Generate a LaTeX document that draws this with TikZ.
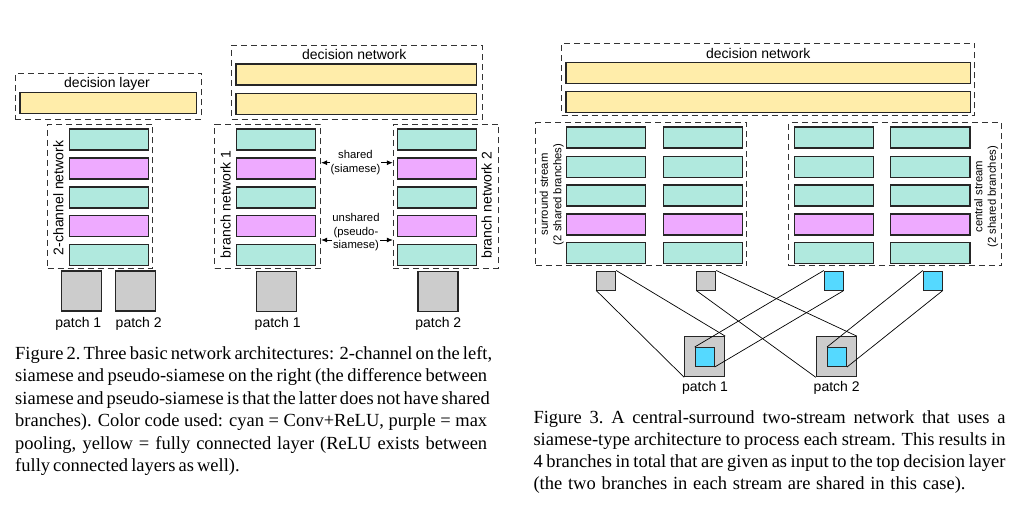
\documentclass[tikz,border=0pt]{standalone}
\usepackage{fontspec}
\setmainfont{Liberation Serif}
\newfontfamily\diagfont{Liberation Sans}
\usetikzlibrary{arrows.meta}
\definecolor{cyb}{HTML}{B0E9DE}
\definecolor{pub}{HTML}{EEAAFF}
\definecolor{yeb}{HTML}{FFEDAA}
\definecolor{grb}{HTML}{CCCCCC}
\definecolor{brc}{HTML}{55D9FF}
\begin{document}
\begin{tikzpicture}[x=1pt,y=-1pt,
  bar/.style={draw=black!85, line width=1.1pt, inner sep=0pt, minimum height=21pt, minimum width=79.3pt},
  fcbar/.style={bar, fill=yeb},
  dbox/.style={draw=black!80, dash pattern=on 6pt off 4pt, line width=1pt, inner sep=0pt},
  patchbox/.style={draw=black!85, line width=1.1pt, fill=grb, inner sep=0pt, minimum size=40pt},
  smallpatch/.style={draw=black!85, line width=1pt, inner sep=0pt, minimum size=19pt},
  lbl/.style={font=\diagfont\fontsize{14}{16}\selectfont, inner sep=0pt},
  slbl/.style={font=\diagfont\fontsize{11.3}{13.5}\selectfont, inner sep=0.5pt, align=center},
  arr/.style={{Latex[length=6pt,width=5pt]}-{Latex[length=6pt,width=5pt]}, line width=0.8pt},
  wire/.style={line width=0.7pt, black},
  captext/.style={anchor=base west, inner sep=0pt, font=\fontsize{18.5}{22.5}\selectfont}
]
\fill[white] (0,0) rectangle (1034,507);
\useasboundingbox (0,0) rectangle (1034,507);

% ---------------- Left: 2-channel ----------------
\node[dbox, minimum width=186.4pt, minimum height=45.7pt] (declay) at (108.5,96.2) {};
\node[lbl] (declaytxt) at (107,83.5) {decision layer};
\node[fcbar, minimum width=176.7pt] (decbar) at (108.3,102.8) {};
\node[dbox, minimum width=105pt, minimum height=144.3pt] (twoch) at (100.2,196.2) {};
\node[lbl, rotate=90] (twochtxt) at (58.3,198) {2-channel network};
\foreach \yy/\cc [count=\i] in {139.5/cyb,168.5/pub,197.5/cyb,226.3/pub,255/cyb}
  {\node[bar, fill=\cc] (L\i) at (108.7,\yy) {};}
\node[patchbox] (lp1) at (81.3,291) {};
\node[patchbox] (lp2) at (135.3,291) {};
\node[lbl] (lp1t) at (78.3,324) {patch 1};
\node[lbl] (lp2t) at (138.7,324) {patch 2};

% ---------------- Middle: siamese ----------------
\node[dbox, minimum width=250.6pt, minimum height=74pt] (decnet) at (357,82) {};
\node[lbl] (decnettxt) at (354.3,54) {decision network};
\node[fcbar, minimum width=240.7pt] (mfc1) at (356.3,74.5) {};
\node[fcbar, minimum width=240.7pt] (mfc2) at (356.3,103.7) {};
\node[dbox, minimum width=105.7pt, minimum height=144.3pt] (br1) at (267.8,196.2) {};
\node[dbox, minimum width=105pt, minimum height=144.3pt] (br2) at (445.8,196.2) {};
\foreach \yy/\cc [count=\i] in {139.5/cyb,168.5/pub,197.5/cyb,226.3/pub,255/cyb}
  {\node[bar, fill=\cc] (A\i) at (276.2,\yy) {};
   \node[bar, fill=\cc] (B\i) at (437,\yy) {};}
\node[lbl, rotate=90] (br1txt) at (225.7,204.3) {branch network 1};
\node[lbl, rotate=90] (br2txt) at (486.7,205) {branch network 2};
\coordinate (sharedy) at (0,162.7);
\coordinate (unsharedy) at (0,240);
\draw[arr] (br1.east |- sharedy) -- (br2.west |- sharedy);
\draw[arr] (br1.east |- unsharedy) -- (br2.west |- unsharedy);
\node[slbl, fill=white] (sharedtxt) at (355.5,162.5) {shared\\(siamese)};
\node[slbl, fill=white] (unsharedtxt) at (356,232.3) {unshared\\(pseudo-\\siamese)};
\node[patchbox] (mp1) at (276.7,291.7) {};
\node[patchbox] (mp2) at (438,291.7) {};
\node[lbl] (mp1t) at (277.7,324) {patch 1};
\node[lbl] (mp2t) at (438.3,324) {patch 2};

% ---------------- Right: central-surround ----------------
\node[dbox, minimum width=413.3pt, minimum height=71.7pt] (rdec) at (768.3,79.2) {};
\node[lbl] (rdectxt) at (758.3,53.5) {decision network};
\node[fcbar, minimum width=404.7pt] (rfc1) at (768.3,72.8) {};
\node[fcbar, minimum width=404.7pt] (rfc2) at (768.3,102) {};
\node[dbox, minimum width=210.7pt, minimum height=143.3pt] (sur) at (641.3,194.3) {};
\node[dbox, minimum width=212.7pt, minimum height=143.3pt] (cen) at (895.3,194.3) {};
\foreach \yy/\cc [count=\i] in {137.5/cyb,166.8/cyb,195.5/cyb,224.5/pub,253/cyb}
  {\node[bar, fill=\cc] (C\i) at (605.8,\yy) {};
   \node[bar, fill=\cc] (D\i) at (702.8,\yy) {};
   \node[bar, fill=\cc] (E\i) at (833.7,\yy) {};
   \node[bar, fill=\cc] (F\i) at (930.3,\yy) {};}
\node[slbl, rotate=90] (surtxt) at (551.7,194.5) {surround stream\\(2 shared branches)};
\node[slbl, rotate=90] (centxt) at (986.2,196.7) {central stream\\(2 shared branches)};
\node[smallpatch, fill=grb] (sg1) at (606.2,280.5) {};
\node[smallpatch, fill=grb] (sg2) at (706.2,280.5) {};
\node[smallpatch, fill=brc] (sc1) at (833.8,280.5) {};
\node[smallpatch, fill=brc] (sc2) at (932.8,280.5) {};
\node[patchbox] (P1) at (704.7,356.7) {};
\node[patchbox] (P2) at (836.3,356.7) {};
\node[smallpatch, fill=brc] (I1) at (704.7,357) {};
\node[smallpatch, fill=brc] (I2) at (837,357) {};
\draw[wire] (sg1.south west) -- (P1.south west);
\draw[wire] (sg1.north east) -- (P1.north east);
\draw[wire] (sg2.south west) -- (P2.south west);
\draw[wire] (sg2.north east) -- (P2.north east);
\draw[wire] (sc1.north west) -- (I1.north west);
\draw[wire] (sc1.south east) -- (I1.south east);
\draw[wire] (sc2.north west) -- (I2.north west);
\draw[wire] (sc2.south east) -- (I2.south east);
\node[lbl] (P1t) at (705,387.7) {patch 1};
\node[lbl] (P2t) at (836.7,387.7) {patch 2};

% ---------------- Captions ----------------
\node[captext] (c1) at (15,359) {\makebox[472pt][s]{Figure 2.\ Three basic network architectures: 2-channel on the left,}};
\node[captext] (c2) at (15,381.5) {\makebox[472pt][s]{siamese and pseudo-siamese on the right (the difference between}};
\node[captext] (c3) at (15,404) {\makebox[472pt][s]{siamese and pseudo-siamese is that the latter does not have shared}};
\node[captext] (c4) at (15,426.5) {\makebox[472pt][s]{branches). Color code used: cyan = Conv+ReLU, purple = max}};
\node[captext] (c5) at (15,449) {\makebox[472pt][s]{pooling, yellow = fully connected layer (ReLU exists between}};
\node[captext] (c6) at (15,471.5) {\makebox[224pt][s]{fully connected layers as well).}};
\node[captext] (d1) at (533.3,423.3) {\makebox[472pt][s]{Figure 3.\ A central-surround two-stream network that uses a}};
\node[captext] (d2) at (533.3,445.3) {\makebox[472pt][s]{siamese-type architecture to process each stream. This results in}};
\node[captext] (d3) at (533.3,467.3) {\makebox[472pt][s]{4 branches in total that are given as input to the top decision layer}};
\node[captext] (d4) at (533.3,489.3) {\makebox[432pt][s]{(the two branches in each stream are shared in this case).}};
\end{tikzpicture}
\end{document}
